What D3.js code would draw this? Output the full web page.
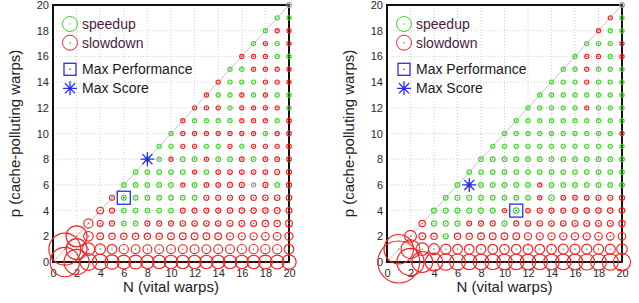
<!DOCTYPE html>
<html lang="en">
<head>
<meta charset="utf-8">
<title>speedup / slowdown map</title>
<style>
  body { margin: 0; background: #fff; }
  svg { display: block; font-family: "Liberation Sans", Arial, sans-serif; }
</style>
</head>
<body>
<svg id="chart" width="639" height="303"></svg>
<script src="https://d3js.org/d3.v7.min.js"></script>
<script>
// tick labels on both axes
var ticks = [0, 2, 4, 6, 8, 10, 12, 14, 16, 18, 20];

// one string per row p (0..20), char i is the point at N = p + i
// G = speedup, R = slowdown, X = no change, - = no point
var leftColors = [
  "-RRRRRRRRRRRRRRRRRRRR",
  "RRRRRRRRRRRRRRRRRRRR",
  "RRRRRRRRRRRRRRRRRRR",
  "RRRGGRRRRRRRRRRRRR",
  "RRGGGGGRRRRRRRRRR",
  "RGGGGGGGRRRRRRRR",
  "GGGGGRGRRRRXRGR",
  "GGGGGRGRRRRRRR",
  "GGRGGRGGRGRRR",
  "GGRRGGRGRRRR",
  "GRRRRRRRGRR",
  "RGGGGRRRGR",
  "RRRGRRRRG",
  "RGGRGRGG",
  "RGGGRRR",
  "GGRRRR",
  "RRRGG",
  "GRGR",
  "GRR",
  "GG",
  "X"
];

// magnitude of the change (circle size), same layout as the colours
var leftSizes = [
  [null, 7.0, 6.0, 4.0, 3.7, 3.4, 3.3, 3.3, 3.2, 3.2, 3.2, 3.2, 3.2, 3.2, 3.2, 3.2, 3.2, 3.2, 3.3, 3.3, 3.4],
  [7.6, 5.0, 3.0, 2.5, 2.3, 2.2, 2.1, 2.1, 2.1, 2.1, 2.1, 2.1, 2.1, 2.1, 2.1, 2.2, 2.2, 2.2, 2.2, 2.3],
  [5.0, 2.3, 1.6, 1.5, 1.5, 1.5, 1.5, 1.5, 1.6, 1.6, 1.6, 1.6, 1.6, 1.7, 1.7, 1.7, 1.8, 1.8, 1.9],
  [2.2, 1.4, 1.2, 1.1, 1.1, 1.2, 1.2, 1.2, 1.3, 1.3, 1.3, 1.3, 1.4, 1.4, 1.4, 1.5, 1.5, 1.6],
  [1.6, 1.2, 1.1, 1.1, 1.1, 1.1, 1.1, 1.2, 1.2, 1.2, 1.2, 1.3, 1.3, 1.3, 1.3, 1.4, 1.4],
  [1.2, 1.1, 1.1, 1.1, 1.1, 1.1, 1.1, 1.1, 1.2, 1.2, 1.2, 1.2, 1.3, 1.3, 1.3, 1.3],
  [1.1, 1.1, 1.1, 1.1, 1.1, 1.0, 1.1, 1.1, 1.1, 1.2, 1.2, 1.0, 1.2, 1.1, 1.2],
  [1.1, 1.1, 1.1, 1.1, 1.1, 1.0, 1.1, 1.1, 1.1, 1.1, 1.1, 1.1, 1.2, 1.2],
  [1.1, 1.0, 1.0, 1.1, 1.1, 1.0, 1.1, 1.1, 1.1, 1.1, 1.1, 1.1, 1.1],
  [1.0, 1.0, 1.0, 1.0, 1.0, 1.0, 1.0, 1.0, 1.0, 1.0, 1.0, 1.1],
  [1.0, 1.0, 1.0, 1.0, 1.0, 1.0, 1.0, 1.0, 1.0, 1.0, 1.1],
  [1.0, 1.0, 1.0, 1.0, 1.0, 1.0, 1.0, 1.0, 1.0, 1.1],
  [1.0, 1.0, 1.0, 1.0, 1.0, 1.0, 1.0, 1.0, 1.0],
  [1.0, 1.0, 1.0, 1.0, 1.0, 1.0, 1.0, 1.0],
  [1.0, 1.0, 1.0, 1.0, 1.0, 1.0, 1.0],
  [1.0, 1.0, 1.0, 1.0, 1.0, 1.0],
  [1.0, 1.0, 1.0, 1.0, 1.0],
  [1.0, 1.0, 1.0, 1.0],
  [1.0, 1.0, 1.0],
  [1.0, 1.0],
  [1.1]
];

var rightColors = [
  "-RRRRRRRRRRRRRRRRRRRR",
  "RRRRRRRRRRRRRRRRRRRR",
  "RRRGRRRRRRRRRRRRRRR",
  "RGGGRRRGRRRRRRRRRR",
  "GGGGGGRGRRRRRRRRR",
  "GGGGGGGGRGRRRRRR",
  "GGGGGGGRGGGGGGG",
  "GGGGGGGGGGGGGG",
  "GGGGGGGGGGGGG",
  "GGGGGGGGGGGG",
  "GGGGGGGGGGR",
  "GGGGGGGGGG",
  "GGGGGRGGG",
  "GGGGGGGG",
  "GGGRGGG",
  "GGRGGG",
  "GRRGR",
  "GGGR",
  "RGG",
  "RG",
  "X"
];

var rightSizes = [
  [null, 10.0, 6.5, 5.0, 4.2, 3.9, 3.8, 3.7, 3.7, 3.7, 3.7, 3.7, 3.7, 3.7, 3.7, 3.7, 3.7, 3.8, 3.8, 3.9, 4.1],
  [7.0, 4.5, 3.0, 2.6, 2.4, 2.3, 2.3, 2.3, 2.3, 2.3, 2.3, 2.3, 2.3, 2.3, 2.4, 2.4, 2.4, 2.4, 2.4, 2.5],
  [2.8, 1.6, 1.5, 1.2, 1.5, 1.5, 1.6, 1.6, 1.6, 1.6, 1.7, 1.7, 1.7, 1.7, 1.7, 1.7, 1.8, 1.8, 1.8],
  [1.5, 1.2, 1.2, 1.2, 1.1, 1.2, 1.2, 1.2, 1.2, 1.3, 1.3, 1.3, 1.3, 1.4, 1.4, 1.4, 1.4, 1.5],
  [1.2, 1.2, 1.2, 1.2, 1.2, 1.2, 1.0, 1.3, 1.1, 1.2, 1.2, 1.2, 1.3, 1.3, 1.3, 1.3, 1.3],
  [1.1, 1.2, 1.2, 1.1, 1.1, 1.1, 1.1, 1.1, 1.0, 1.3, 1.1, 1.1, 1.1, 1.2, 1.2, 1.2],
  [1.1, 1.1, 1.1, 1.1, 1.1, 1.1, 1.1, 1.0, 1.1, 1.1, 1.1, 1.1, 1.1, 1.1, 1.1],
  [1.1, 1.1, 1.1, 1.1, 1.1, 1.1, 1.1, 1.1, 1.1, 1.1, 1.1, 1.1, 1.1, 1.1],
  [1.1, 1.1, 1.1, 1.1, 1.1, 1.1, 1.1, 1.1, 1.1, 1.1, 1.1, 1.1, 1.1],
  [1.0, 1.0, 1.0, 1.0, 1.0, 1.0, 1.0, 1.0, 1.0, 1.0, 1.0, 1.0],
  [1.0, 1.0, 1.0, 1.0, 1.0, 1.0, 1.0, 1.0, 1.0, 1.0, 1.0],
  [1.0, 1.0, 1.0, 1.0, 1.0, 1.0, 1.0, 1.0, 1.0, 1.0],
  [1.0, 1.0, 1.0, 1.0, 1.0, 1.0, 1.0, 1.0, 1.0],
  [1.0, 1.0, 1.0, 1.0, 1.0, 1.0, 1.0, 1.0],
  [1.0, 1.0, 1.0, 1.0, 1.0, 1.0, 1.0],
  [1.0, 1.0, 1.0, 1.0, 1.0, 1.0],
  [1.0, 1.0, 1.0, 1.0, 1.0],
  [1.0, 1.0, 1.0, 1.0],
  [1.0, 1.0, 1.0],
  [1.0, 1.0],
  [1.1]
];

// [N, p] of the two highlighted configurations
var leftMaxPerf = [6, 5], leftMaxScore = [8, 8];
var rightMaxPerf = [11, 4], rightMaxScore = [7, 6];

var legendLabels = ["speedup", "slowdown", "Max Performance", "Max Score"];

var colorOf = { G: "#44d22c", R: "#f42222", X: "#9a9a9a" };
var blue = "#2b2bff";

var svg = d3.select("#chart");
var rScale = d3.scaleLinear().domain([0, 10]).range([0, 21]);

function toPoints(colors, sizes) {
    var pts = [];
    colors.forEach(function(row, p) {
        row.split("").forEach(function(c, i) {
            if (c === "-" || sizes[p][i] == null) return;
            pts.push({ N: p + i, p: p, c: c, m: sizes[p][i] });
        });
    });
    return pts;
}

function star(g, cx, cy, r) {
    var a = r * 0.72;
    g.append("path")
        .attr("d", "M" + (cx - r) + "," + cy + "H" + (cx + r) +
                   "M" + cx + "," + (cy - r) + "V" + (cy + r) +
                   "M" + (cx - a) + "," + (cy - a) + "L" + (cx + a) + "," + (cy + a) +
                   "M" + (cx - a) + "," + (cy + a) + "L" + (cx + a) + "," + (cy - a))
        .attr("stroke", blue).attr("stroke-width", 1.3).attr("fill", "none");
}

function drawPanel(left, w, colors, sizes, maxPerf, maxScore) {
    var top = 5, h = 257;
    var g = svg.append("g").attr("transform", "translate(" + left + "," + top + ")");

    var x = d3.scaleLinear().domain([0, 20]).range([0, w]);
    var y = d3.scaleLinear().domain([0, 20]).range([h, 0]);

    // dotted grid
    var inner = ticks.slice(1, -1);
    g.append("g").selectAll("line").data(inner).enter().append("line")
        .attr("x1", function(d) { return x(d); }).attr("x2", function(d) { return x(d); })
        .attr("y1", 0).attr("y2", h)
        .attr("stroke", "#cfcfcf").attr("stroke-dasharray", "1,2");
    g.append("g").selectAll("line").data(inner).enter().append("line")
        .attr("y1", function(d) { return y(d); }).attr("y2", function(d) { return y(d); })
        .attr("x1", 0).attr("x2", w)
        .attr("stroke", "#cfcfcf").attr("stroke-dasharray", "1,2");

    // diagonal p = N
    g.append("line")
        .attr("x1", x(0)).attr("y1", y(0)).attr("x2", x(20)).attr("y2", y(20))
        .attr("stroke", "#c4c4c4").attr("stroke-width", 1);

    // tick labels
    var ax = g.append("g").attr("transform", "translate(0," + h + ")")
        .call(d3.axisBottom(x).tickValues(ticks).tickSize(0).tickPadding(7));
    var ay = g.append("g")
        .call(d3.axisLeft(y).tickValues(ticks).tickSize(0).tickPadding(4));
    [ax, ay].forEach(function(a) {
        a.select(".domain").remove();
        a.selectAll("text").attr("font-size", 11).attr("fill", "#2a2a2a")
            .attr("font-family", "Liberation Sans, Arial, sans-serif");
    });

    // frame
    g.append("rect").attr("x", 0).attr("y", 0).attr("width", w).attr("height", h)
        .attr("fill", "none").attr("stroke", "#111").attr("stroke-width", 2);

    // points
    var pts = toPoints(colors, sizes);
    var pg = g.append("g").selectAll("g").data(pts).enter().append("g")
        .attr("transform", function(d) { return "translate(" + x(d.N) + "," + y(d.p) + ")"; });
    pg.append("circle")
        .attr("r", function(d) { return rScale(d.m); })
        .attr("fill", "none")
        .attr("stroke", function(d) { return colorOf[d.c]; })
        .attr("stroke-width", 1.15);
    pg.append("circle")
        .attr("r", 0.7)
        .attr("fill", function(d) { return colorOf[d.c]; });

    // highlighted configurations
    g.append("rect")
        .attr("x", x(maxPerf[0]) - 6.5).attr("y", y(maxPerf[1]) - 6.5)
        .attr("width", 13).attr("height", 13)
        .attr("fill", "none").attr("stroke", blue).attr("stroke-width", 1.3);
    g.append("circle").attr("cx", x(maxPerf[0])).attr("cy", y(maxPerf[1]))
        .attr("r", 0.8).attr("fill", blue);
    star(g, x(maxScore[0]), y(maxScore[1]), 7);

    // legend
    var lx = 17, tx = 29, ly = [19, 37.7, 64.3, 83.3];
    g.append("circle").attr("cx", lx).attr("cy", ly[0]).attr("r", 7.5)
        .attr("fill", "none").attr("stroke", colorOf.G);
    g.append("circle").attr("cx", lx).attr("cy", ly[0]).attr("r", 0.7).attr("fill", colorOf.G);
    g.append("circle").attr("cx", lx).attr("cy", ly[1]).attr("r", 7.5)
        .attr("fill", "none").attr("stroke", colorOf.R);
    g.append("circle").attr("cx", lx).attr("cy", ly[1]).attr("r", 0.7).attr("fill", colorOf.R);
    g.append("rect").attr("x", lx - 6).attr("y", ly[2] - 6).attr("width", 12).attr("height", 12)
        .attr("fill", "none").attr("stroke", blue).attr("stroke-width", 1.3);
    g.append("circle").attr("cx", lx).attr("cy", ly[2]).attr("r", 0.8).attr("fill", blue);
    star(g, lx, ly[3], 7);

    g.append("g").selectAll("text").data(legendLabels).enter().append("text")
        .attr("x", tx)
        .attr("y", function(d, i) { return ly[i]; })
        .attr("dy", "0.36em")
        .attr("font-size", 14)
        .attr("fill", function(d, i) { return i < 2 ? "#4a1c3c" : "#1a1a1a"; })
        .text(function(d) { return d; });

    // axis titles
    g.append("text")
        .attr("x", w / 2).attr("y", h + 30)
        .attr("text-anchor", "middle").attr("font-size", 15).attr("fill", "#222")
        .text("N (vital warps)");
    g.append("text")
        .attr("transform", "translate(-33," + (h / 2) + ") rotate(-90)")
        .attr("text-anchor", "middle").attr("font-size", 15).attr("fill", "#222")
        .text("p (cache-polluting warps)");
}

drawPanel(53, 236, leftColors, leftSizes, leftMaxPerf, leftMaxScore);
drawPanel(387, 235, rightColors, rightSizes, rightMaxPerf, rightMaxScore);
</script>
</body>
</html>
